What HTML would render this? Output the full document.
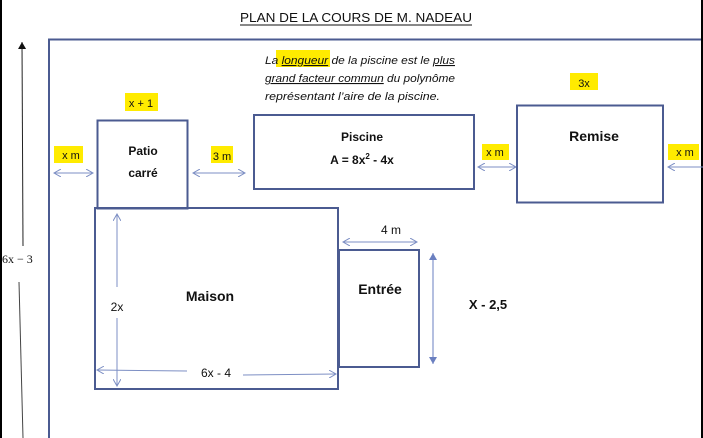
<!DOCTYPE html>
<html><head><meta charset="utf-8"><style>
html,body{margin:0;padding:0;background:#fff;}
svg{display:block;}
text{font-family:"Liberation Sans",sans-serif;fill:#111;}
</style></head><body>
<svg width="703" height="438" viewBox="0 0 703 438" xmlns="http://www.w3.org/2000/svg">
<defs>
<marker id="oa" markerWidth="8" markerHeight="8" refX="7" refY="4" orient="auto-start-reverse" markerUnits="userSpaceOnUse"><path d="M0,0 L7,4 L0,8" fill="none" stroke="#7d8fc4" stroke-width="1"/></marker>
<marker id="fa" markerWidth="8" markerHeight="8" refX="7" refY="4" orient="auto-start-reverse" markerUnits="userSpaceOnUse"><path d="M0,0 L7,4 L0,8 Z" fill="#6a7fc0"/></marker>
<marker id="ka" markerWidth="8" markerHeight="8" refX="7" refY="4" orient="auto" markerUnits="userSpaceOnUse"><path d="M0,0 L7,4 L0,8 Z" fill="#111"/></marker>
</defs>
<rect x="0" y="0" width="2" height="438" fill="#000"/>
<rect x="701" y="0" width="2" height="438" fill="#000"/>
<text x="240" y="22" font-size="13" textLength="232" lengthAdjust="spacingAndGlyphs">PLAN DE LA COURS DE M. NADEAU</text>
<line x1="240" y1="25" x2="472" y2="25" stroke="#111" stroke-width="1"/>
<path d="M49,438 L49,39.5 L701,39.5" fill="none" stroke="#4b5b91" stroke-width="2"/>
<line x1="23" y1="246" x2="22" y2="42" stroke="#222" stroke-width="1" marker-end="url(#ka)"/>
<line x1="19" y1="282" x2="23" y2="438" stroke="#444" stroke-width="1"/>
<text x="2" y="263" font-size="12" style="font-family:'Liberation Serif',serif">6x − 3</text>
<rect x="276" y="50" width="54" height="17" fill="#ffeb00"/>
<g font-size="11" font-style="italic">
<text x="265" y="64" textLength="190" lengthAdjust="spacingAndGlyphs">La <tspan text-decoration="underline">longueur</tspan> de la piscine est le <tspan text-decoration="underline">plus</tspan></text>
<text x="265" y="82" textLength="190" lengthAdjust="spacingAndGlyphs"><tspan text-decoration="underline">grand facteur commun</tspan> du polynôme</text>
<text x="265" y="100" textLength="175" lengthAdjust="spacingAndGlyphs">représentant l’aire de la piscine.</text>
</g>
<rect x="125" y="93" width="33" height="18" fill="#ffeb00"/>
<text x="141" y="107" font-size="11" text-anchor="middle">x + 1</text>
<rect x="54" y="146" width="29" height="17" fill="#ffeb00"/>
<text x="71" y="159" font-size="11" text-anchor="middle">x m</text>
<rect x="211" y="146" width="22" height="17" fill="#ffeb00"/>
<text x="222" y="160" font-size="11" text-anchor="middle">3 m</text>
<rect x="570" y="73" width="28" height="17" fill="#ffeb00"/>
<text x="584" y="87" font-size="11" text-anchor="middle">3x</text>
<rect x="482" y="144" width="27" height="16" fill="#ffeb00"/>
<text x="495" y="156" font-size="11" text-anchor="middle">x m</text>
<rect x="668" y="144" width="31" height="16" fill="#ffeb00"/>
<text x="685" y="156" font-size="11" text-anchor="middle">x m</text>
<g stroke="#7d8fc4" stroke-width="1" fill="none">
<line x1="54" y1="173" x2="93" y2="173" marker-start="url(#oa)" marker-end="url(#oa)"/>
<line x1="193" y1="173" x2="245" y2="173" marker-start="url(#oa)" marker-end="url(#oa)"/>
<line x1="478" y1="167" x2="516" y2="167" marker-start="url(#oa)" marker-end="url(#oa)"/>
<line x1="668" y1="167" x2="710" y2="167" marker-start="url(#oa)"/>
<line x1="343" y1="242" x2="417" y2="242" marker-start="url(#oa)" marker-end="url(#oa)"/>
</g>
<g fill="none" stroke="#4b5b91" stroke-width="2">
<rect x="97.5" y="120.5" width="90" height="88"/>
<rect x="254" y="115" width="220" height="74"/>
<rect x="517" y="105.5" width="146" height="97"/>
<rect x="95" y="208" width="243" height="181"/>
<rect x="339" y="250" width="80" height="117"/>
</g>
<g font-weight="bold" font-size="12" text-anchor="middle">
<text x="143" y="155">Patio</text>
<text x="143" y="177">carré</text>
<text x="362" y="141">Piscine</text>
<text x="362" y="164">A = 8x<tspan font-size="8" dy="-5">2</tspan><tspan dy="5"> - 4x</tspan></text>
<text x="594" y="141" font-size="14">Remise</text>
<text x="210" y="301" font-size="14">Maison</text>
<text x="380" y="294" font-size="14">Entrée</text>
</g>
<line x1="117" y1="214" x2="117" y2="287" stroke="#7d8fc4" stroke-width="1" marker-start="url(#oa)"/>
<line x1="117" y1="318" x2="117" y2="386" stroke="#7d8fc4" stroke-width="1" marker-end="url(#oa)"/>
<text x="117" y="311" font-size="12" text-anchor="middle">2x</text>
<line x1="187" y1="371" x2="97" y2="370" stroke="#7d8fc4" stroke-width="1" marker-end="url(#oa)"/>
<line x1="243" y1="375" x2="336" y2="374" stroke="#7d8fc4" stroke-width="1" marker-end="url(#oa)"/>
<text x="216" y="377" font-size="12" text-anchor="middle">6x - 4</text>
<text x="391" y="234" font-size="12" text-anchor="middle">4 m</text>
<line x1="433" y1="253" x2="433" y2="364" stroke="#6a7fc0" stroke-width="1" marker-start="url(#fa)" marker-end="url(#fa)"/>
<text x="488" y="309" font-size="13" font-weight="bold" text-anchor="middle">X - 2,5</text>
</svg>
</body></html>
